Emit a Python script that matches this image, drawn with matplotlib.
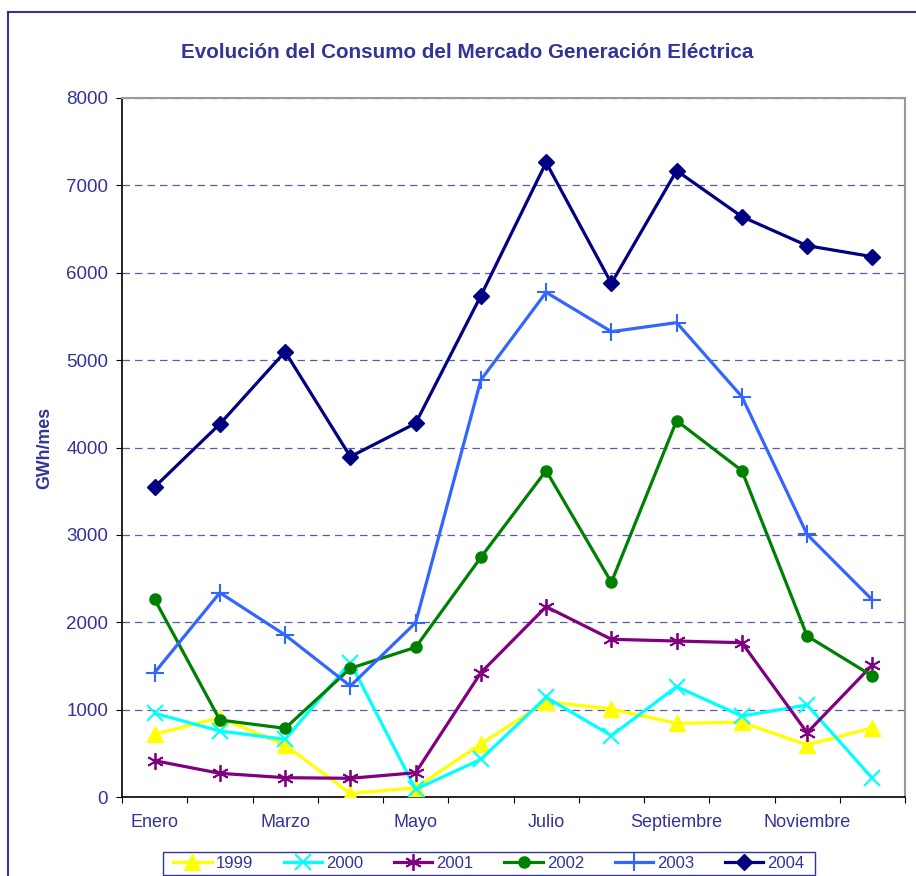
import numpy as np
import matplotlib

matplotlib.use('Agg')
import matplotlib.pyplot as plt
from matplotlib.lines import Line2D
from matplotlib.patches import Rectangle

plt.rcParams['font.family'] = ['Liberation Sans', 'DejaVu Sans']

months = ["Enero", "Febrero", "Marzo", "Abril", "Mayo", "Junio", "Julio",
          "Agosto", "Septiembre", "Octubre", "Noviembre", "Diciembre"]

y1999 = [718, 908, 595, 40, 105, 607, 1091, 1007, 843, 855, 595, 793]
y2000 = [958, 755, 660, 1537, 88, 431, 1141, 702, 1263, 927, 1053, 214]
y2001 = [416, 271, 221, 214, 278, 1423, 2178, 1805, 1785, 1766, 736, 1511]
y2002 = [2263, 881, 786, 1473, 1713, 2743, 3735, 2457, 4307, 3735, 1843, 1385]
y2003 = [1423, 2338, 1854, 1270, 1995, 4773, 5776, 5326, 5429, 4582, 3005, 2255]
y2004 = [3548, 4269, 5096, 3895, 4277, 5737, 7262, 5879, 7168, 6642, 6310, 6184]

text_col = '#333399'


def draw_chart():
    fig = plt.figure(figsize=(9.16, 8.76), dpi=100)
    ax = fig.add_axes([122 / 916, 79 / 876, 783 / 916, 699 / 876])

    x = np.arange(len(months))
    series = [
        ("1999", y1999, '#FFFF00', '^', 11, 1.0),
        ("2000", y2000, '#00FFFF', 'x', 11, 1.5),
        ("2001", y2001, '#800080', (6, 2, 0), 12, 1.3),
        ("2002", y2002, '#008000', 'o', 8, 1.0),
        ("2003", y2003, '#3366FF', '+', 13, 1.5),
        ("2004", y2004, '#000080', 'D', 8, 1.0),
    ]
    handles = []
    for name, vals, col, mk, ms, mew in series:
        ln, = ax.plot(x, vals, color=col, lw=2.3, marker=mk, markersize=ms,
                      markeredgewidth=mew, markeredgecolor=col, markerfacecolor=col,
                      label=name, zorder=3)
        handles.append(ln)

    ax.set_xlim(-0.5, 11.5)
    ax.set_ylim(0, 8000)
    ax.set_yticks(np.arange(0, 8001, 1000))
    ax.yaxis.grid(True, linestyle=(0, (6, 4)), color=text_col, lw=0.9, alpha=0.8)
    ax.set_axisbelow(True)

    # ticks at slot boundaries, labels every other month
    ax.set_xticks(np.arange(-0.5, 12, 1))
    ax.set_xticklabels([])
    ax.set_xticks(x[::2], minor=True)
    ax.set_xticklabels(months[::2], minor=True)
    ax.tick_params(axis='x', which='major', direction='out', length=4.5, color='black')
    ax.tick_params(axis='x', which='minor', length=0, pad=12, labelsize=13,
                   labelcolor=text_col)
    ax.tick_params(axis='y', direction='out', length=4.5, labelsize=13.5,
                   labelcolor=text_col, pad=5.5)

    for s in ['top', 'right']:
        ax.spines[s].set_color('#999999')
        ax.spines[s].set_linewidth(1.5)
    for s in ['left', 'bottom']:
        ax.spines[s].set_color('black')
        ax.spines[s].set_linewidth(1.2)

    ax.set_ylabel("GWh/mes", color=text_col, fontsize=12.8, fontweight='bold', labelpad=9)
    fig.text(467 / 916, 1 - 52 / 876, "Evolución del Consumo del Mercado Generación Eléctrica",
             ha='center', va='center', color=text_col, fontsize=14.9, fontweight='bold')

    # legend box drawn by hand, entries placed inside it
    fig.add_artist(Rectangle((163 / 916, 1 / 876), 652 / 916, 23 / 876,
                             transform=fig.transFigure, fill=False,
                             edgecolor=text_col, lw=1.0))
    fig.legend(handles=handles, loc='center', ncol=6,
               bbox_to_anchor=(489 / 916, 12.5 / 876),
               fontsize=12, frameon=False,
               handlelength=2.3, handletextpad=0.25, columnspacing=1.84,
               borderpad=0.0, labelcolor=text_col)

    # outer chart border (left and top edges visible)
    fig.add_artist(Line2D([7.5 / 916, 7.5 / 916], [0, 1 - 11.5 / 876],
                          transform=fig.transFigure, color=text_col, lw=1.5))
    fig.add_artist(Line2D([7.5 / 916, 1], [1 - 11.5 / 876, 1 - 11.5 / 876],
                          transform=fig.transFigure, color=text_col, lw=1.5))

    fig.savefig("out.png", dpi=100)


if __name__ == '__main__':
    draw_chart()
